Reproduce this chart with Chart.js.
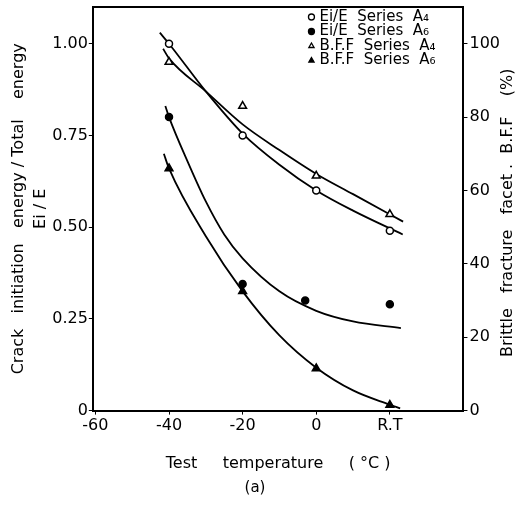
<!DOCTYPE html>
<html>
<head>
<meta charset="utf-8">
<script src="https://cdn.jsdelivr.net/npm/chart.js@4.4.1/dist/chart.umd.min.js"></script>
<style>
  html, body { margin: 0; padding: 0; background: #fff; }
  #wrap { width: 521px; height: 508px; }
</style>
</head>
<body>
<div id="wrap"><canvas id="chart"></canvas></div>
<script>
const FONT = "'DejaVu Sans', sans-serif";

// x positions: R.T is plotted at +20
const tempTicks = [-60, -40, -20, 0, 20];
const tempLabels = ["-60", "-40", "-20", "0", "R.T"];

// measured points
const eiA4Temp = [-40, -20, 0, 20];
const eiA4 = [1.00, 0.75, 0.60, 0.49];
const eiA6Temp = [-40, -20, -3, 20];
const eiA6 = [0.80, 0.345, 0.30, 0.29];
const bffA4Temp = [-40, -20, 0, 20];
const bffA4 = [95, 83, 64, 53.5];
const bffA6Temp = [-40, -20, 0, 20];
const bffA6 = [66, 32.5, 11.5, 1.5];

// hand drawn trend curves
const eiA4FitT = [-42.5, -40, -30, -20, -10, 0, 10, 23.5];
const eiA4Fit = [1.03, 1.0, 0.87, 0.755, 0.67, 0.60, 0.545, 0.48];
const bffA4FitT = [-41.6, -40, -30, -20, -10, 0, 10, 23.6];
const bffA4Fit = [98.6, 96, 87, 78, 71, 64.5, 59, 51.5];
const eiA6FitT = [-41, -40, -35, -30, -25, -20, -10, 0, 10, 23];
const eiA6Fit = [0.83, 0.80, 0.68, 0.57, 0.48, 0.415, 0.325, 0.272, 0.243, 0.225];
const bffA6FitT = [-41.4, -40, -30, -20, -10, 0, 10, 20, 22.8];
const bffA6Fit = [70, 66, 47.5, 32.5, 20.5, 11.7, 5.5, 1.6, 0.6];

function pts(xs, ys) {
    return xs.map((x, i) => ({ x: x, y: ys[i] }));
}

function curve(xs, ys, axis) {
    return {
        data: pts(xs, ys),
        yAxisID: axis,
        showLine: true,
        borderColor: "#000",
        borderWidth: 1.8,
        pointRadius: 0,
        cubicInterpolationMode: "monotone",
        order: 2,
    };
}

function marks(xs, ys, axis, style, filled, radius, text) {
    return {
        data: pts(xs, ys),
        yAxisID: axis,
        showLine: false,
        pointStyle: style,
        pointRadius: radius,
        pointBorderWidth: 1.5,
        pointBorderColor: "#000",
        pointBackgroundColor: filled ? "#000" : "#fff",
        legendText: text,
        order: 1,
    };
}

// no extra room above the plot for the (unused) top tick label
function noTopPad(scale) {
    scale.paddingTop = 0;
}

// legend sits inside the top right corner of the plot
const insideLegend = {
    id: "insideLegend",
    afterDraw(chart) {
        const { ctx, chartArea } = chart;
        ctx.save();
        ctx.font = "15px " + FONT;
        ctx.textBaseline = "middle";
        let y = chartArea.top + 10;
        chart.data.datasets.forEach((ds) => {
            if (!ds.legendText) return;
            const x = chartArea.right - 152;
            ctx.fillStyle = ds.pointBackgroundColor;
            ctx.strokeStyle = "#000";
            ctx.lineWidth = 1.3;
            Chart.helpers.drawPoint(ctx, { pointStyle: ds.pointStyle, radius: 3, borderWidth: 1.3, rotation: 0 }, x, y);
            ctx.fillStyle = "#000";
            ctx.fillText(ds.legendText, x + 8, y);
            y += 14.5;
        });
        // top side of the frame
        ctx.strokeStyle = "#000";
        ctx.lineWidth = 2;
        ctx.beginPath();
        ctx.moveTo(chartArea.left, chartArea.top);
        ctx.lineTo(chartArea.right, chartArea.top);
        ctx.stroke();
        // right axis title, read bottom to top
        ctx.font = "16px " + FONT;
        ctx.textAlign = "center";
        ctx.textBaseline = "middle";
        ctx.translate(chart.width - 13, (chartArea.top + chartArea.bottom) / 2 + 4);
        ctx.rotate(-Math.PI / 2);
        ctx.fillText("Brittle   fracture   facet .  B.F.F    (%)", 0, 0);
        ctx.restore();
    },
};

new Chart(document.getElementById("chart").getContext("2d"), {
    type: "scatter",
    data: {
        datasets: [
            curve(eiA4FitT, eiA4Fit, "y"),
            curve(bffA4FitT, bffA4Fit, "y2"),
            curve(eiA6FitT, eiA6Fit, "y"),
            curve(bffA6FitT, bffA6Fit, "y2"),
            marks(eiA4Temp, eiA4, "y", "circle", false, 3.5, "Ei/E  Series  A\u2084"),
            marks(eiA6Temp, eiA6, "y", "circle", true, 3.5, "Ei/E  Series  A\u2086"),
            marks(bffA4Temp, bffA4, "y2", "triangle", false, 4.5, "B.F.F  Series  A\u2084"),
            marks(bffA6Temp, bffA6, "y2", "triangle", true, 4.5, "B.F.F  Series  A\u2086"),
        ],
    },
    options: {
        responsive: true,
        maintainAspectRatio: false,
        animation: false,
        layout: { padding: { left: 8, right: 19, top: 7, bottom: 11 } },
        plugins: {
            legend: { display: false },
            tooltip: { enabled: false },
            title: {
                display: true,
                position: "bottom",
                text: "(a)",
                color: "#000",
                font: { family: FONT, size: 15, weight: "normal" },
                padding: { top: 6, bottom: 0 },
            },
        },
        scales: {
            x: {
                type: "linear",
                min: -60.7,
                max: 40,
                afterBuildTicks: (axis) => {
                    axis.ticks = tempTicks.map((v) => ({ value: v }));
                },
                ticks: {
                    color: "#000",
                    font: { family: FONT, size: 16 },
                    padding: 2,
                    maxRotation: 0,
                    callback: (v) => tempLabels[tempTicks.indexOf(v)],
                },
                grid: { drawOnChartArea: false, color: "#000", tickLength: 4 },
                border: { color: "#000", width: 2 },
                title: {
                    display: true,
                    text: "Test     temperature     ( \u00b0C )",
                    color: "#000",
                    font: { family: FONT, size: 16 },
                    padding: { top: 16, bottom: 0 },
                },
            },
            y: {
                position: "left",
                min: 0,
                max: 1.1,
                afterBuildTicks: (axis) => {
                    axis.ticks = [0, 0.25, 0.5, 0.75, 1].map((v) => ({ value: v }));
                },
                afterFit: noTopPad,
                ticks: {
                    color: "#000",
                    font: { family: FONT, size: 16 },
                    padding: 1,
                    callback: (v) => (v === 0 ? "0" : v.toFixed(2)),
                },
                grid: { drawOnChartArea: false, color: "#000", tickLength: 4 },
                border: { color: "#000", width: 2 },
                title: {
                    display: true,
                    text: ["Crack   initiation   energy / Total    energy", "Ei / E"],
                    color: "#000",
                    font: { family: FONT, size: 16, lineHeight: 1.35 },
                    padding: { top: 0, bottom: 0 },
                },
            },
            y2: {
                position: "right",
                min: 0,
                max: 110,
                afterBuildTicks: (axis) => {
                    axis.ticks = [0, 20, 40, 60, 80, 100].map((v) => ({ value: v }));
                },
                afterFit: noTopPad,
                ticks: {
                    color: "#000",
                    font: { family: FONT, size: 16 },
                    padding: 2,
                },
                grid: { drawOnChartArea: false, color: "#000", tickLength: 4 },
                border: { color: "#000", width: 2 },
            },
        },
    },
    plugins: [insideLegend],
});
</script>
</body>
</html>
